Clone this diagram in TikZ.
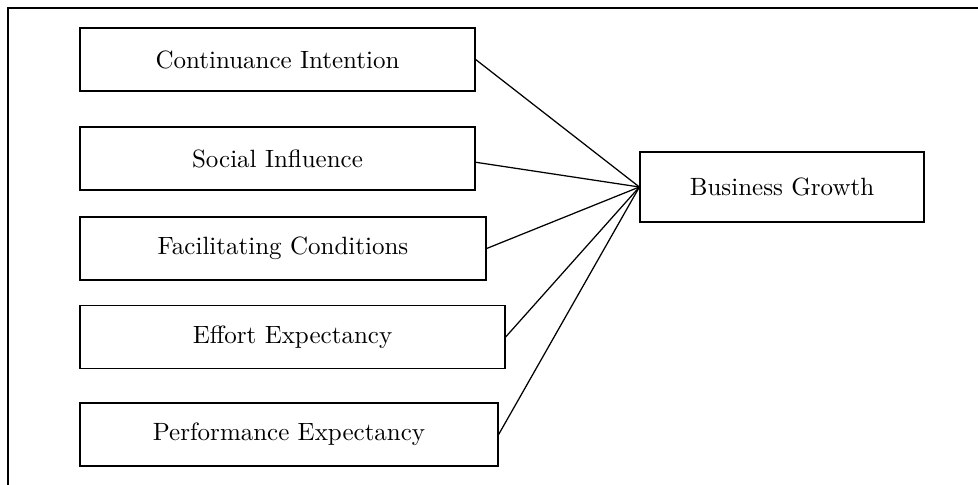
\documentclass[tikz,border=0pt]{standalone}
\usepackage{tikz}

\tikzset{
    factor/.style={draw, line width=0.5pt, minimum height=25.2pt, inner sep=0pt, font=\fontsize{10}{12}\selectfont},
    link/.style={line width=0.5pt}
}

\begin{document}
\begin{tikzpicture}[x=0.4pt, y=-0.4pt]
    \useasboundingbox (0,0) rectangle (978,485);
    % frame
    \draw[line width=0.6pt] (8,485) -- (8,8) -- (978,8);

    % factors
    \node[factor, minimum width=158pt] (ci) at (277.5,59.5) {Continuance Intention};
    \node[factor, minimum width=158pt] (si) at (277.5,158.5) {Social Influence};
    \node[factor, minimum width=162.4pt] (fc) at (283,248.5) {Facilitating Conditions};
    \node[factor, minimum width=170pt] (ee) at (292.5,337) {Effort Expectancy};
    \node[factor, minimum width=167.2pt] (pe) at (289,434.5) {Performance Expectancy};

    % outcome
    \node[factor, minimum width=113.6pt, minimum height=28pt] (bg) at (782,187) {Business Growth};

    % paths
    \draw[link] (ci.east) -- (bg.west);
    \draw[link] ([yshift=-1.5pt]si.east) -- (bg.west);
    \draw[link] (fc.east) -- (bg.west);
    \draw[link] (ee.east) -- (bg.west);
    \draw[link] (pe.east) -- (bg.west);
\end{tikzpicture}
\end{document}
